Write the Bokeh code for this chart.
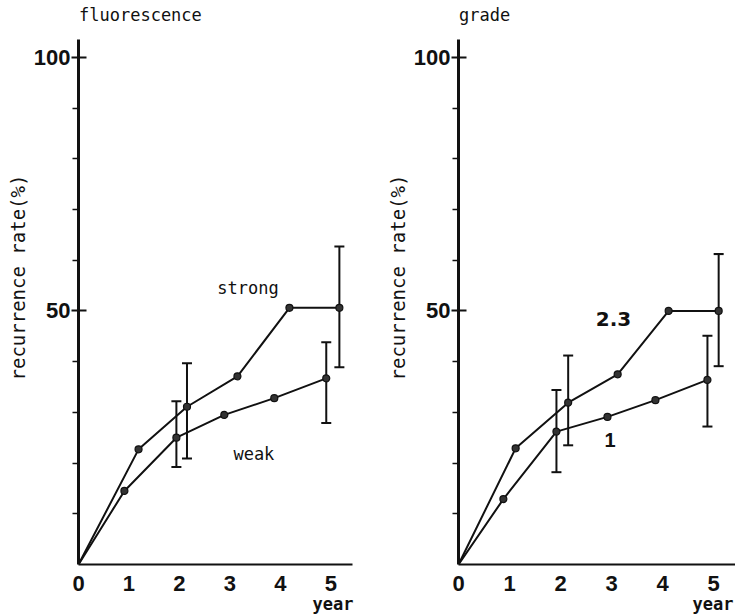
from bokeh.plotting import figure
from bokeh.layouts import row
from bokeh.models import (Range1d, FixedTicker, Label, Whisker, TeeHead,
                          ColumnDataSource, Title)
from bokeh.embed import file_html
from bokeh.resources import INLINE

# ---- data ----
x_ticks = [0, 1, 2, 3, 4, 5]
y_major = [50, 100]
y_minor = [10, 20, 30, 40, 60, 70, 80, 90]

# left panel: fluorescence
strong_x = [0, 1.19, 2.15, 3.15, 4.18, 5.17]
strong_y = [0, 22.7, 31.1, 37.1, 50.6, 50.6]
strong_err_x = [2.15, 5.17]
strong_err_hi = [39.7, 62.7]
strong_err_lo = [20.9, 38.9]

weak_x = [0, 0.91, 1.94, 2.89, 3.88, 4.91]
weak_y = [0, 14.5, 25.0, 29.5, 32.8, 36.7]
weak_err_x = [1.94, 4.91]
weak_err_hi = [32.2, 43.8]
weak_err_lo = [19.2, 27.9]

# right panel: grade
g23_x = [0, 1.12, 2.15, 3.12, 4.12, 5.10]
g23_y = [0, 22.9, 31.9, 37.5, 50.0, 50.0]
g23_err_x = [2.15, 5.10]
g23_err_hi = [41.2, 61.2]
g23_err_lo = [23.5, 39.1]

g1_x = [0, 0.88, 1.92, 2.92, 3.86, 4.88]
g1_y = [0, 12.9, 26.2, 29.1, 32.4, 36.4]
g1_err_x = [1.92, 4.88]
g1_err_hi = [34.4, 45.1]
g1_err_lo = [18.2, 27.2]

INK = "#111111"
TXT_FONT = "DejaVu Sans Mono"
TICK_FONT = "Liberation Sans"


def make_panel(width, border_left, border_right, x_end, title, series, labels,
               title_x, year_offset):
    p = figure(width=width, height=616, output_backend="svg",
               toolbar_location=None, x_range=Range1d(0, x_end),
               y_range=Range1d(0, 111.2), min_border_left=border_left,
               min_border_right=border_right, min_border_top=0,
               min_border_bottom=52)
    p.outline_line_color = None
    p.grid.visible = False
    p.background_fill_color = "white"

    xa = p.xaxis[0]
    xa.ticker = FixedTicker(ticks=x_ticks)
    xa.major_tick_out = 0
    xa.major_tick_in = 0
    xa.minor_tick_out = 0
    xa.axis_line_width = 2
    xa.axis_line_color = INK
    xa.major_label_standoff = 11
    xa.major_label_text_font = TICK_FONT
    xa.major_label_text_font_style = "bold"
    xa.major_label_text_font_size = "22px"
    xa.major_label_text_color = INK

    p.add_layout(Title(text="year", align="right", offset=year_offset,
                       standoff=0, vertical_align="top",
                       text_font=TXT_FONT, text_font_size="17px",
                       text_font_style="bold", text_color=INK), "below")

    ya = p.yaxis[0]
    ya.ticker = FixedTicker(ticks=y_major, minor_ticks=y_minor)
    ya.bounds = (0, 103.5)
    ya.axis_line_width = 3
    ya.axis_line_color = INK
    ya.major_tick_out = 7
    ya.major_tick_in = 8
    ya.major_tick_line_width = 2
    ya.major_tick_line_color = INK
    ya.minor_tick_out = 6
    ya.minor_tick_in = 0
    ya.minor_tick_line_width = 1.5
    ya.minor_tick_line_color = INK
    ya.major_label_standoff = 1
    ya.major_label_text_font = TICK_FONT
    ya.major_label_text_font_style = "bold"
    ya.major_label_text_font_size = "22px"
    ya.major_label_text_color = INK

    p.add_layout(Title(text="recurrence rate(%)", align="left", offset=184,
                       standoff=2, vertical_align="middle",
                       text_font=TXT_FONT, text_font_size="19px",
                       text_font_style="normal", text_color=INK), "left")

    for xs, ys, ex, ehi, elo in series:
        p.line(xs, ys, line_width=2, line_color=INK)
        p.scatter(xs[1:], ys[1:], size=7, fill_color="#333333",
                  line_color=INK, line_width=1.2)
        src = ColumnDataSource(data=dict(x=ex, upper=ehi, lower=elo))
        p.add_layout(Whisker(source=src, base="x", upper="upper",
                             lower="lower", line_width=2, line_color=INK,
                             upper_head=TeeHead(size=10, line_width=2,
                                                line_color=INK),
                             lower_head=TeeHead(size=10, line_width=2,
                                                line_color=INK)))

    for txt, x, y, font, size, style in labels:
        p.add_layout(Label(x=x, y=y, text=txt, text_font=font,
                           text_font_size=size, text_font_style=style,
                           text_color=INK, text_align="left",
                           text_baseline="middle"))

    p.add_layout(Label(x=title_x, y=108.3, text=title, text_font=TXT_FONT,
                       text_font_size="17px", text_color=INK,
                       text_align="left", text_baseline="middle"))
    return p


left = make_panel(
    358, 78, 6, 5.43, "fluorescence",
    [(strong_x, strong_y, strong_err_x, strong_err_hi, strong_err_lo),
     (weak_x, weak_y, weak_err_x, weak_err_hi, weak_err_lo)],
    [("strong", 2.75, 54.6, TXT_FONT, "17px", "normal"),
     ("weak", 3.07, 21.7, TXT_FONT, "17px", "normal")],
    title_x=0.01, year_offset=-1)

right = make_panel(
    377, 100, 0, 5.43, "grade",
    [(g23_x, g23_y, g23_err_x, g23_err_hi, g23_err_lo),
     (g1_x, g1_y, g1_err_x, g1_err_hi, g1_err_lo)],
    [("2.3", 2.69, 48.5, "DejaVu Sans", "20px", "bold"),
     ("1", 2.86, 24.5, TICK_FONT, "20px", "bold")],
    title_x=0.01, year_offset=2)

layout = row(left, right)
open("out.html", "w").write(file_html(layout, INLINE))
